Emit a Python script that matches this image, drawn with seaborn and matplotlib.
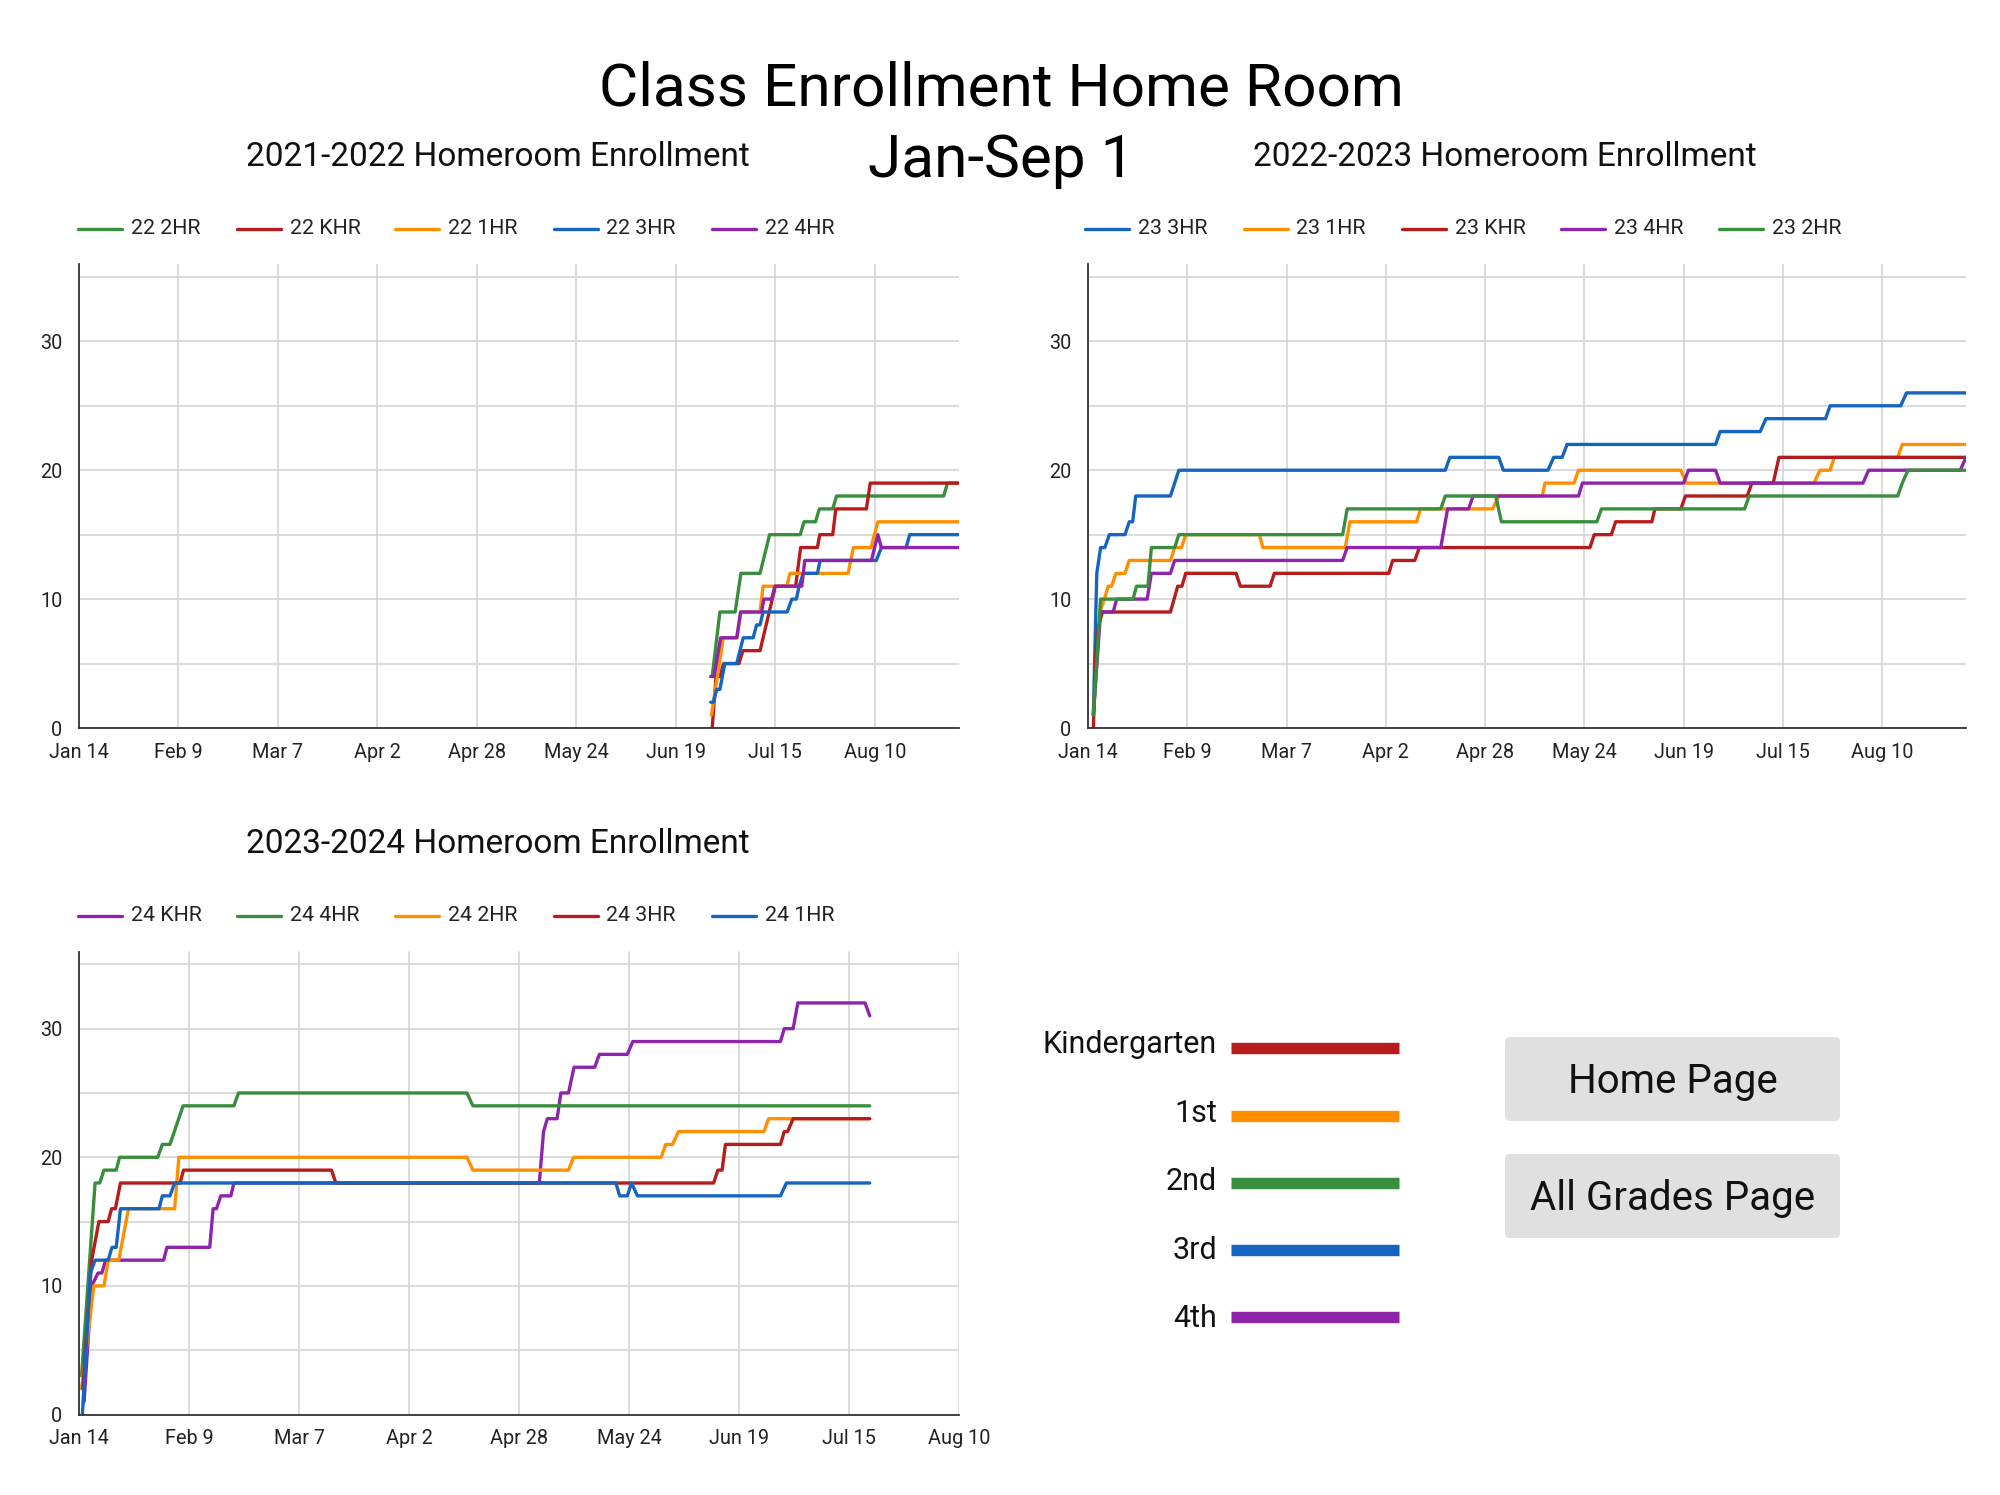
import matplotlib
matplotlib.use("Agg")
import matplotlib.pyplot as plt
from matplotlib.lines import Line2D
from matplotlib.patches import FancyBboxPatch
import seaborn as sns
import pandas as pd

# ---------------- data (day offset from Jan 14, enrollment) ----------------
TICK_LABELS = ["Jan 14", "Feb 9", "Mar 7", "Apr 2", "Apr 28", "May 24", "Jun 19", "Jul 15", "Aug 10"]
TICK_DAYS = [0, 26, 52, 78, 104, 130, 156, 182, 208]

# 2021-2022
c22_names = ["22 2HR", "22 KHR", "22 1HR", "22 3HR", "22 4HR"]
x22_2hr = [165.5, 167.5, 171.5, 173, 178, 180.5, 188.5, 189.5, 192.5, 193.5, 197, 198, 226, 227, 230]
y22_2hr = [4, 9, 9, 12, 12, 15, 15, 16, 16, 17, 17, 18, 18, 19, 19]
x22_khr = [165.5, 166.5, 167.5, 168.5, 172.5, 173.5, 178, 182, 187.3, 188.6, 193, 193.6, 197, 197.8, 205.8, 206.8, 230]
y22_khr = [0, 4, 4, 5, 5, 6, 6, 11, 11, 14, 14, 15, 15, 17, 17, 19, 19]
x22_1hr = [165.3, 168.4, 172, 173, 178, 178.8, 185, 185.8, 201, 202.4, 207, 208.8, 230]
y22_1hr = [1, 7, 7, 9, 9, 11, 11, 12, 12, 14, 14, 16, 16]
x22_3hr = [165.1, 165.8, 166.7, 167.5, 168.8, 171.9, 173.6, 176.2, 177.1, 178, 178.8, 185.1, 186.3,
           187.5, 188.2, 189.3, 193, 193.7, 208.4, 209.7, 216.2, 217.1, 230]
y22_3hr = [2, 2, 3, 3, 5, 5, 7, 7, 8, 8, 9, 9, 10, 10, 11, 12, 12, 13, 13, 14, 14, 15, 15]
x22_4hr = [165.1, 166, 167.7, 171.9, 172.9, 178.4, 179, 181, 181.9, 188.9, 189.7, 207.1, 208.8, 209.7, 230]
y22_4hr = [4, 4, 7, 7, 9, 9, 10, 10, 11, 11, 13, 13, 15, 14, 14]

# 2022-2023
c23_names = ["23 3HR", "23 1HR", "23 KHR", "23 4HR", "23 2HR"]
x23_3hr = [1.4, 2.3, 3.3, 4.4, 5.6, 9.7, 10.8, 11.7, 12.5, 21.6, 23.8, 93.6, 94.8, 107.6, 108.8, 120.5,
           122, 124.2, 125.5, 164.4, 165.6, 176.1, 177.6, 193.2, 194.4, 212.9, 214.4, 230]
y23_3hr = [1, 12, 14, 14, 15, 15, 16, 16, 18, 18, 20, 20, 21, 21, 20, 20, 21, 21, 22, 22, 23, 23, 24, 24,
           25, 25, 26, 26]
x23_1hr = [1.4, 3.1, 4.3, 5.3, 6.2, 7.3, 9.7, 10.8, 21.6, 22.7, 24.5, 25.6, 44.9, 45.8, 67.4, 68.6, 86.1,
           87.1, 106, 107.6, 119, 119.7, 127.3, 128.5, 155.3, 156.8, 190.2, 191.7, 194.4, 195.5, 212.1,
           213.3, 230]
y23_1hr = [1, 9, 10, 11, 11, 12, 12, 13, 13, 14, 14, 15, 15, 14, 14, 16, 16, 17, 17, 18, 18, 19, 19, 20,
           20, 19, 19, 20, 20, 21, 21, 22, 22]
x23_khr = [1.4, 2.1, 2.8, 3.8, 21.6, 23.5, 24.6, 25.6, 38.8, 39.9, 47.7, 48.8, 78.8, 79.8, 85.6, 86.8,
           131.5, 132.6, 137.1, 138.2, 147.7, 148.5, 155.3, 156.5, 172.7, 173.9, 179.5, 181, 230]
y23_khr = [0, 6, 8, 9, 9, 11, 11, 12, 12, 11, 11, 12, 12, 13, 13, 14, 14, 15, 15, 16, 16, 17, 17, 18,
           18, 19, 19, 21, 21]
x23_4hr = [1.4, 3.3, 6.6, 7.5, 15.5, 16.6, 21.6, 22.7, 66.7, 67.9, 92.4, 94.2, 99.7, 100.9, 128.5, 129.5,
           156, 157.3, 164.4, 165.6, 203, 204.5, 228.5, 230]
y23_4hr = [1, 9, 9, 10, 10, 12, 12, 13, 13, 14, 14, 17, 17, 18, 18, 19, 19, 20, 20, 19, 19, 20, 20, 21]
x23_2hr = [1.4, 3.3, 11.8, 12.7, 15.7, 16.6, 22.7, 23.8, 66.7, 67.9, 92.4, 93.6, 106.8, 108.3, 133.3,
           134.5, 172, 173.2, 212.1, 213.3, 214.8, 230]
y23_2hr = [1, 10, 10, 11, 11, 14, 14, 15, 15, 17, 17, 18, 18, 16, 16, 17, 17, 18, 18, 19, 20, 20]

# 2023-2024
c24_names = ["24 KHR", "24 4HR", "24 2HR", "24 3HR", "24 1HR"]
x24_khr = [1.2, 3.0, 4.5, 5.4, 6.3, 20, 20.8, 30.9, 31.7, 32.5, 33.5, 35.9, 36.6, 108.8, 109.8, 110.7,
           113, 113.9, 115.7, 117, 121.9, 123, 129.6, 130.9, 165.8, 166.7, 168.8, 169.9, 185.8, 186.9]
y24_khr = [1, 10, 11, 11, 12, 12, 13, 13, 16, 16, 17, 17, 18, 18, 22, 23, 23, 25, 25, 27, 27, 28, 28, 29,
           29, 30, 30, 32, 32, 31]
x24_4hr = [0.6, 3.8, 4.9, 5.9, 8.8, 9.6, 18.6, 19.7, 21.5, 24.6, 36.6, 37.7, 91.7, 93.1, 186.9]
y24_4hr = [3, 18, 18, 19, 19, 20, 20, 21, 21, 24, 24, 25, 25, 24, 24]
x24_2hr = [0.6, 3.5, 5.9, 6.9, 9.4, 11.7, 22.6, 23.6, 91.7, 93.1, 115.7, 116.9, 137.6, 138.7, 140.3,
           141.7, 161.9, 163, 186.9]
y24_2hr = [2, 10, 10, 12, 12, 16, 16, 20, 20, 19, 19, 20, 20, 21, 21, 22, 22, 23, 23]
x24_3hr = [0.9, 3.0, 4.7, 6.9, 7.7, 8.6, 9.8, 23.9, 24.7, 59.7, 60.7, 150, 151, 152, 152.8, 165.8, 166.7,
           167.5, 168.8, 186.9]
y24_3hr = [2, 12, 15, 15, 16, 16, 18, 18, 19, 19, 18, 18, 19, 19, 21, 21, 22, 22, 23, 23]
x24_1hr = [0.8, 2.7, 3.8, 6.9, 7.8, 8.8, 9.8, 18.9, 19.7, 21.5, 22.6, 126.9, 127.8, 129.6, 130.6, 132,
           165.8, 167.2, 186.9]
y24_1hr = [0, 11, 12, 12, 13, 13, 16, 16, 17, 17, 18, 18, 17, 17, 18, 17, 17, 18, 18]

GRADE_LABELS = ["Kindergarten", "1st", "2nd", "3rd", "4th"]

# ---------------- styling ----------------
RED, ORANGE, GREEN, BLUE, PURPLE = "#B71C1C", "#FF8F00", "#388E3C", "#1565C0", "#8E24AA"
GRADE_COLORS = [RED, ORANGE, GREEN, BLUE, PURPLE]

sns.set_style("white")
plt.rcParams["font.family"] = ["Roboto", "DejaVu Sans"]

W, H = 2000, 1495
fig = plt.figure(figsize=(W / 100, H / 100), dpi=100)
fig.patch.set_facecolor("white")


def fx(x):
    return x / W


def fy(y):
    return 1 - y / H


def long_df(names, xs, ys):
    frames = []
    for n, x, y in zip(names, xs, ys):
        frames.append(pd.DataFrame({"day": x, "enroll": y, "series": n}))
    return pd.concat(frames, ignore_index=True)


def draw_chart(rect, names, xs, ys, colors, xmax, title, title_xy, legend_xy):
    ax = fig.add_axes(rect)
    df = long_df(names, xs, ys)
    pal = dict(zip(names, colors))
    sns.lineplot(data=df, x="day", y="enroll", hue="series", hue_order=names, palette=pal,
                 estimator=None, sort=False, linewidth=2.4, legend=False, ax=ax)
    ax.set_xlim(0, xmax)
    ax.set_ylim(0, 36)
    ax.set_xticks([d for d in TICK_DAYS if d <= xmax])
    ax.set_xticklabels([l for d, l in zip(TICK_DAYS, TICK_LABELS) if d <= xmax])
    ax.set_yticks([0, 10, 20, 30])
    ax.set_yticks([5, 15, 25, 35], minor=True)
    ax.grid(True, which="both", axis="y", color="#d4d4d4", linewidth=1.2)
    ax.grid(True, which="major", axis="x", color="#d4d4d4", linewidth=1.2)
    ax.set_axisbelow(True)
    ax.set_xlabel("")
    ax.set_ylabel("")
    for s in ["top", "right"]:
        ax.spines[s].set_visible(False)
    for s in ["left", "bottom"]:
        ax.spines[s].set_color("#333333")
        ax.spines[s].set_linewidth(1.3)
    ax.tick_params(axis="both", which="both", length=0, labelsize=14.3, colors="#222222")
    ax.tick_params(axis="y", pad=12)
    ax.tick_params(axis="x", pad=10.5)
    # subtitle
    fig.text(fx(title_xy[0]), fy(title_xy[1]), title, ha="center", va="baseline", fontsize=24,
             color="#111111")
    # legend
    lx, ly = legend_xy
    for i, (n, c) in enumerate(zip(names, colors)):
        x0 = lx + i * 158.5
        fig.add_artist(Line2D([fx(x0), fx(x0 + 44)], [fy(ly), fy(ly)], color=c, linewidth=2.4,
                              transform=fig.transFigure))
        fig.text(fx(x0 + 53), fy(ly), n, ha="left", va="center", fontsize=15.4, color="#222222")
    return ax


draw_chart([fx(79), fy(728), 880 / W, 464 / H], c22_names,
           [x22_2hr, x22_khr, x22_1hr, x22_3hr, x22_4hr],
           [y22_2hr, y22_khr, y22_1hr, y22_3hr, y22_4hr],
           [GREEN, RED, ORANGE, BLUE, PURPLE], 230,
           "2021-2022 Homeroom Enrollment", (498, 166.5), (78, 228.5))

draw_chart([fx(1088), fy(728), 878 / W, 464 / H], c23_names,
           [x23_3hr, x23_1hr, x23_khr, x23_4hr, x23_2hr],
           [y23_3hr, y23_1hr, y23_khr, y23_4hr, y23_2hr],
           [BLUE, ORANGE, RED, PURPLE, GREEN], 230,
           "2022-2023 Homeroom Enrollment", (1505, 166.5), (1085, 228.5))

draw_chart([fx(79), fy(1414.5), 880 / W, 463 / H], c24_names,
           [x24_khr, x24_4hr, x24_2hr, x24_3hr, x24_1hr],
           [y24_khr, y24_4hr, y24_2hr, y24_3hr, y24_1hr],
           [PURPLE, GREEN, ORANGE, RED, BLUE], 208,
           "2023-2024 Homeroom Enrollment", (498, 853), (78, 915.5))

# main title
fig.text(fx(1001), fy(106), "Class Enrollment Home Room", ha="center", va="baseline", fontsize=43.5,
         color="#000000")
fig.text(fx(1001), fy(177), "Jan-Sep 1", ha="center", va="baseline", fontsize=43.5, color="#000000")

# grade colour key
for i, (lab, c) in enumerate(zip(GRADE_LABELS, GRADE_COLORS)):
    yb = 1048.3 + i * 67.2
    fig.add_artist(Line2D([fx(1231), fx(1399)], [fy(yb), fy(yb)], color=c, linewidth=8.2,
                          solid_capstyle="butt", transform=fig.transFigure))
    fig.text(fx(1217), fy(1053 + i * 68.6), lab, ha="right", va="baseline", fontsize=22,
             color="#111111")

# buttons
for (label, y0, y1) in [("Home Page", 1037, 1121), ("All Grades Page", 1154, 1238)]:
    x0, x1 = 1505, 1840
    patch = FancyBboxPatch((x0 / 100, (H - y1) / 100), (x1 - x0) / 100, (y1 - y0) / 100,
                           boxstyle="round,pad=0,rounding_size=0.05", facecolor="#e0e0e0",
                           edgecolor="none", transform=fig.dpi_scale_trans)
    fig.add_artist(patch)
    fig.text(fx((x0 + x1) / 2), fy((y0 + y1) / 2 + 14), label, ha="center", va="baseline", fontsize=29,
             color="#111111")

fig.savefig("out.png", dpi=100, facecolor="white")
